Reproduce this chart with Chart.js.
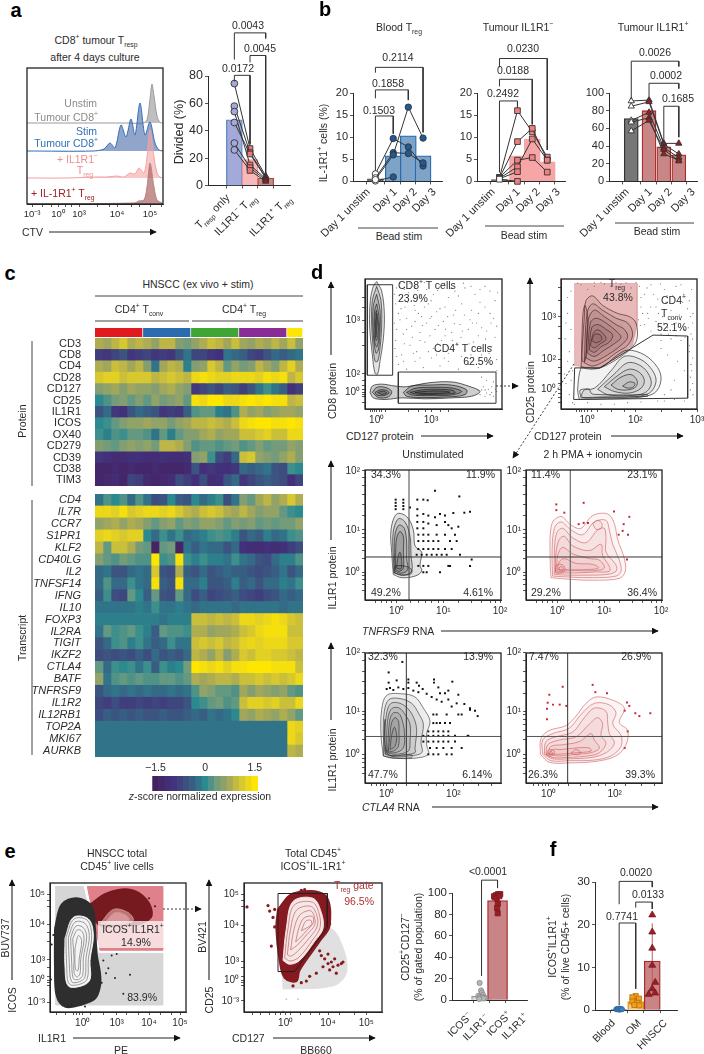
<!DOCTYPE html>
<html>
<head>
<meta charset="utf-8">
<title>IL-1R1 Treg figure</title>
<script src="https://cdn.jsdelivr.net/npm/chart.js@4/dist/chart.umd.min.js"></script>
<style>
  html, body { margin: 0; padding: 0; background: #fff; }
  #page { position: relative; width: 704px; height: 1054px; overflow: hidden; font-family: "Liberation Sans", Arial, sans-serif; color: #2b2b2b; }
  canvas { position: absolute; pointer-events: none; }
  .t { position: absolute; white-space: nowrap; line-height: 1; }
  .t sub, .t sup { font-size: 65%; line-height: 0; }
  svg { position: absolute; left: 0; top: 0; }
</style>
</head>
<body>
<div id="page"></div>
<script>
// ---- panel a ----
const histTickValues = [5, 31, 52, 90, 123, 15, 24, 38, 44, 70, 82, 104, 112, 134];
const histTickLabels = ['10⁻³', '10⁰', '10³', '10⁴', '10⁵'];
const unstimX = [0, 100, 116, 120, 123, 125, 127, 130, 133, 136];
const unstimY = [81, 81, 81, 84, 105, 120, 108, 88, 81.5, 81];
const stimX = [0, 66, 77, 83, 88, 94, 99, 104, 108, 113, 118, 123, 128, 132, 136];
const stimY = [53, 53, 55, 61, 56, 79, 67, 85, 69, 101, 69, 82, 61, 54, 53];
const il1r1NegX = [0, 40, 70, 80, 90, 97, 103, 108, 112, 117, 120, 123, 127, 130, 133, 136];
const il1r1NegY = [26, 26, 27, 27, 28, 27, 31, 30, 36, 31, 47, 74, 47, 31, 27, 26];
const il1r1PosX = [0, 107, 112, 117, 120, 123, 127, 130, 135, 136];
const il1r1PosY = [0, 1, 3, 4, 17, 41, 17, 4, 1, 0];

const dividedX = [0, 1, 2];
const dividedBars = [48, 19, 5.5];
const dividedDonors = [[74.5, 27, 7], [58, 24, 6], [54, 15, 5], [46, 23, 5.5], [31, 13, 4], [26, 11, 3]];
const dividedBrackets = [[0, 2, 111.5, 92, 107.5], [1, 2, 95, 90, 8.5], [0, 1, 80.5, 76, 30]];

// ---- panel b ----
const bloodX = [0, 1.185, 2.185, 3.165];
const bloodBars = [0.6, 5.8, 10.3, 5.8];
const bloodDonors = [[0.1, 1, null, null], [1.7, 9.7, 7.8, 3.5], [0.8, 6.5, 6.3, 4.2], [0.4, 6, 16.8, 9.8]];
const bloodBrackets = [[0, 1.185, 14.8, 2.4, 10.8], [0, 2.185, 20.7, 18.8, 18.4], [0, 3.165, 25.8, 24.6, 11.1]];

const tumourNegX = [0, 1.2, 2.185, 3.185];
const tumourNegBars = [0.4, 5.8, 9.6, 4.4];
const tumourNegDonors = [[0.9, 16, 11.2, 5.5], [0.8, 9, 12, 4.8], [0.9, 4.8, 5.4, 2.1], [0.7, 3.3, 9.6, 4.8], [0.6, 2.2, null, null], [0.5, 0, null, null]];
const tumourNegBrackets = [[0, 1.2, 18.2, 2, 16.7], [0, 2.185, 23.1, 21.5, 12.9], [0, 3.185, 27.8, 25.8, 7.1]];

const tumourPosX = [0, 1.185, 2.17, 3.17];
const tumourPosBars = [71, 80, 39, 30];
const tumourPosDonors = [[91, 92, 43, 43], [85, 90, 42, 31], [69, 78, 38, 27], [67, 72, 31, 24], [57, 69, 36, 23]];
const tumourPosBrackets = [[0, 3.17, 136, 93, 130], [1.185, 3.17, 111, 96, 105], [2.17, 3.17, 85, 46, 50]];

// ---- panel c ----
const clusterColours = ['#e01a1f', '#2b6cb0', '#3fa535', '#8a2c96', '#ffe600'];
const proteinLabels = ['CD3', 'CD8', 'CD4', 'CD28', 'CD127', 'CD25', 'IL1R1', 'ICOS', 'OX40', 'CD279', 'CD39', 'CD38', 'TIM3'];
const proteinZ = [
  [.8,.7,.9,1.1,.8,.9, .8,.6,.9,.9,.5,.4, .6,.8,1,.9,.7,1, .7,.6,.8,.7,.9,.7, 1,.6],
  [-.8,-.9,-.7,-.5,-.9,-.8, -.7,-.9,-.8,-.9,-.5,-.2, -.7,-.7,-.9,-1,-.2,-.3, -.4,-.7,-.8,-.5,-.3,-.4, -.3,-.2],
  [.8,.7,1,.9,.7,.9, .5,-.2,.7,.9,.8,-.1, .5,.6,1.1,.9,.3,.6, .4,.5,.9,.7,.5,.9, 1.2,.8],
  [1.1,1.2,1.2,1,1.1,1.1, 1.1,.9,1,1.1,1,.9, 1.3,1.4,1.3,1.2,1.2,1.3, 1.3,1.3,1.2,1.4,1.3,1.4, .9,1.1],
  [.5,.6,.7,.5,.7,.6, .6,.5,.7,.8,.6,.5, -.9,-.7,-.5,-.7,-.4,-.5, -.8,-.5,-.2,.1,-.2,-.4, -1,-.8],
  [0,.2,.4,.5,.3,.5, .3,.6,.4,.5,.6,.3, 1.4,1.3,1.5,1.5,1.3,1.3, 1.4,1.5,1.4,1.5,1.4,1.4, .9,1],
  [-.5,-.3,-.9,-1,-.5,-.3, -.4,-.5,-.9,-.8,-.9,-.4, .2,.3,.3,-.1,-.2,.2, .8,.6,.7,.5,.6,.7, .7,.6],
  [0,.1,.3,.5,.6,.6, .7,.6,.6,.4,.6,.7, .9,.9,1,.9,.8,1, 1.3,1.4,1.5,1.5,1.4,1.4, 1.5,1.4],
  [.1,-.1,.2,.1,.3,.3, .2,-.2,.3,-.1,.3,.5, .5,.7,.8,.6,.7,.7, 1,1,1.1,1.2,1,1, 1.3,1.3],
  [.5,.4,.3,.5,.6,.5, .6,.4,.9,.9,.8,.5, .2,.3,.3,.2,.3,.4, .2,.3,.5,.3,.4,.4, .6,.5],
  [-.9,-1,-1.1,-1.1,-1,-1, -1.1,-1.1,-1,-1.1,-1.1,-1, .5,.6,.1,-.6,-.8,-.3, 1,1.1,.6,.5,.4,.6, .8,.5],
  [-1.3,-1.3,-1.2,-1.3,-1.2,-1.3, -1.3,-1.2,-1.3,-1.3,-1.3,-1.2, -.5,-1,-.9,-1,-1,-.9, -.3,-.4,-.3,-.2,-.5,-.6, .1,0],
  [-1.3,-1.2,-1.1,-1.3,-.7,-.8, -1.2,-1.3,-1.2,-1.1,-.6,-.8, -1,-.6,-1.1,-1,-.5,-.3, -.9,-.7,-.5,-.4,-.5,-.6, -1,-.7]
];
const transcriptLabels = ['CD4', 'IL7R', 'CCR7', 'S1PR1', 'KLF2', 'CD40LG', 'IL2', 'TNFSF14', 'IFNG', 'IL10', 'FOXP3', 'IL2RA', 'TIGIT', 'IKZF2', 'CTLA4', 'BATF', 'TNFRSF9', 'IL1R2', 'IL12RB1', 'TOP2A', 'MKI67', 'AURKB'];
const transcriptZ = [
  [-.2,.2,0,.2,-.3,.2, -.2,-.6,-.5,0,-.4,-.5, 0,-.3,-.1,.1,-.6,-.2, .5,.3,.7,.9,.6,.8, 1.1,.8],
  [1.3,1.3,1.2,1.4,1.1,1.2, 1.3,1.3,1.2,1.3,1.1,.9, .8,1,1.1,1,.8,.7, .9,.7,.5,.6,.6,.3, .1,0],
  [.6,.7,.8,.6,.8,.7, .5,.3,.5,.6,.3,.5, .4,.6,.6,.5,.3,.5, .4,.5,.3,.4,.3,.4, .4,.6],
  [1.2,1.3,1.2,1.1,1.2,1.2, 0,-.3,.1,-.2,.1,-.3, -.2,-.1,.1,.2,.1,-.1, -.5,-.3,-.4,-.1,-.3,-.2, .1,.2],
  [.9,.3,1,1,.8,.4, .3,-1.4,.3,.4,-1.4,-.2, -.4,-.2,-.3,-.3,-.5,-.3, -1,-1.1,-1.1,-1,-1.1,-1, -.8,-.6],
  [.5,.3,.2,.4,.3,.2, .2,1.5,.1,.2,1.4,.1, -.1,.1,-.1,-.1,-.2,.1, -.2,-.3,-.5,-.6,-.3,-.1, -.1,.2],
  [-.3,-.2,-.5,-.5,-.3,-.2, -.3,1.1,-.5,-.6,.8,-.4, -.5,-.3,-.5,-.4,-.3,-.4, -.4,-.5,-.6,-.5,-.4,-.2, -.5,-.3],
  [-.3,.2,-.3,-.3,.1,-.2, -.3,1.4,-.4,-.5,1.4,-.3, -.3,-.1,-.5,-.5,-.4,-.1, -.4,-.3,-.5,-.3,-.3,-.1, -.2,.1],
  [-.4,.1,-.6,-.7,.3,0, -.4,.3,-.5,-.6,.3,-.3, -.6,-.4,-.7,-.6,-.5,-.4, -.6,-.7,-.8,-.6,-.5,-.3, -.4,-.3],
  [-.2,-.2,-.2,-.2,-.2,-.1, -.2,.1,-.2,-.2,-.1,-.2, -.3,-.2,-.2,-.2,-.2,-.3, -.2,-.2,-.2,-.2,-.2,-.3, -.2,-.2],
  [-.1,-.1,-.1,-.1,-.1,-.1, -.1,-.1,-.2,-.1,-.1,-.1, 1,1,.9,1,.9,1, 1.3,1.3,1.2,1.3,1.4,1.3, 1.1,1],
  [-.2,.3,.1,.2,.3,.1, -.1,-.4,.3,.2,.2,.1, .8,.8,.6,.7,.7,.8, 1,1.1,1.3,1.4,1.4,1.4, 1,1],
  [-.5,-.3,.1,.2,-.1,.1, -.2,-.4,-.3,.1,-.2,-.2, 1,1.1,1,1.1,.9,1, 1.2,1.3,1.2,1.3,1.3,1.3, 1.1,1.1],
  [-.6,-.5,-.6,-.5,-.6,-.4, -.6,-.3,-.5,-.4,-.5,-.3, .9,.8,.6,.9,.5,.8, 1.1,1,1.2,1.2,1.1,1.1, 1,.9],
  [.3,-.3,.1,0,.1,-.2, .1,-.4,.1,-.1,0,.4, 1.5,1.4,1.3,1.4,1.2,1.4, 1.4,1.5,1.5,1.5,1.4,1.4, 1.4,1],
  [.6,-.2,.2,.3,.2,.3, .2,.2,.3,.3,.2,.3, .8,.7,.8,.9,.9,.8, 1,1,1.1,1,1.1,1, 1.1,1.3],
  [-.5,-.3,-.2,-.3,-.2,-.3, -.2,-.3,-.3,-.2,-.3,-.2, .2,.6,.5,.3,.3,.2, .7,.5,.7,.6,.5,.6, .3,.2],
  [-.7,-.8,-.6,-.8,-.8,-.7, -.8,-.7,-.8,-.7,-.7,-.5, 0,.1,.3,.4,.2,.3, 1,1.2,1.2,1.1,1.2,1, 1,1.3],
  [-.6,-.4,-.5,-.4,-.5,-.4, -.5,-.5,-.4,-.5,-.5,-.4, -.3,-.4,-.2,-.3,-.2,0, .7,.6,.8,.7,.6,.8, .6,.3],
  [-.2,-.2,-.2,-.2,-.2,-.2, -.2,-.2,-.2,-.2,-.2,-.2, -.2,-.2,-.2,-.2,-.2,-.2, -.2,-.2,-.2,-.2,-.2,-.2, 1.3,1.2],
  [-.2,-.2,-.2,-.2,-.2,-.2, -.2,-.2,-.2,-.2,-.2,-.2, -.2,-.2,-.2,-.2,-.2,-.2, -.2,-.2,-.2,-.2,-.2,-.2, 1.3,1.1],
  [-.2,-.2,-.2,-.2,-.2,-.2, -.2,-.2,-.2,-.2,-.2,-.2, -.2,-.2,-.2,-.2,-.2,-.2, -.2,-.2,-.2,-.2,-.2,-.2, .9,.8]
];
const clusterSizes = [6, 6, 6, 6, 2];
const zLevels = [-1.5, -1.3, -1.1, -0.95, -0.75, -0.55, -0.4, -0.2, 0, 0.2, 0.4, 0.55, 0.75, 0.95, 1.1, 1.3, 1.5];
const zColourStops = [[-1.5, '#45205f'], [-1, '#43307a'], [-.5, '#3c5480'], [0, '#2a8a8f'], [.35, '#6d9a80'], [.75, '#a8a858'], [1.1, '#d8c830'], [1.5, '#ffe600']];

// ---- panel d, axes in instrument channels ----
const d1XTicks = [35, 198, 15, 22, 28, 42, 48, 60, 130, 160, 180, 225, 250];
const d1YTicks = [52, 110, 279, 20, 40, 46, 60, 75, 90, 200, 240, 320, 350];
const d1Cd8Contours = [
  [35,400,50,370,58,300,55,220,45,150,38,110,30,112,22,170,14,260,16,340,25,385],
  [35,385,48,340,50,260,45,190,38,150,30,150,24,200,20,270,22,340],
  [35,360,45,310,45,240,40,185,33,175,26,220,23,280,26,330],
  [35,330,42,290,42,230,36,195,30,205,27,260,29,310],
  [34,310,40,270,38,225,33,215,30,250,30,290]
];
const d1Cd4Contours = [
  [15,52,22,72,50,78,90,72,125,70,190,82,260,85,310,72,345,55,320,40,260,35,180,32,110,35,60,30,25,35],
  [22,52,35,68,60,68,80,55,70,38,40,36],
  [30,52,45,60,65,58,72,50,55,42,35,44],
  [38,52,55,56,65,50,50,46],
  [115,52,140,72,190,75,260,75,305,60,300,45,250,38,170,36,125,40],
  [125,52,150,65,200,68,260,66,290,55,260,44,190,42,140,44],
  [135,52,170,60,220,62,265,58,270,50,220,46,160,46],
  [150,52,190,56,240,56,255,52,220,49,170,49]
];
const d1Dots = [95,380,110,350,130,365,150,385,120,320,140,340,165,355,185,375,205,360,225,385,250,350,270,370,300,380,330,360,360,385,390,340,100,300,125,285,150,310,170,290,190,330,215,305,240,320,265,295,290,330,320,310,345,335,375,300,95,250,115,235,140,260,165,240,185,270,210,250,235,275,260,240,285,265,310,250,335,270,365,245,395,260,90,190,110,170,135,200,155,180,180,210,205,190,230,215,250,175,275,205,300,185,325,210,350,170,380,195,100,140,125,125,150,150,175,130,200,160,225,135,250,150,280,125,310,140,340,130,370,145,395,120,350,100,365,90,380,70,395,55,360,60,375,45,385,85,
  88,360,105,395,118,375,135,395,158,372,178,398,198,340,218,372,238,395,258,378,280,355,295,395,318,385,345,375,375,370,398,365,92,330,108,315,128,335,148,325,160,300,178,320,200,290,225,315,248,290,272,310,298,295,315,280,340,300,360,320,385,285,88,270,105,280,125,250,150,275,172,262,195,285,220,262,242,250,268,268,292,245,322,270,350,255,378,270,92,215,118,205,142,225,165,215,195,230,218,205,240,230,262,215,288,225,312,205,340,230,362,220,390,225,95,165,115,150,145,175,165,160,190,180,215,170,238,160,262,185,290,165,318,170,345,190,372,175,395,155,350,60,365,50,345,45,355,70,370,62,380,52,392,62,340,58,360,40,385,40];
const d1Cd8Gate = [7,106,83,106,83,390,7,390];
const d1Cd4Gate = [100,18,393,18,393,116,100,116];

const d2XTicks = [78, 223, 408, 45, 55, 62, 70, 90, 110, 150, 190, 300, 360];
const d2YTicks = [62, 155, 289, 20, 35, 48, 80, 110, 130, 220, 260, 340, 380];
const d2TregGate = [41,394,228,394,228,262,213,197,116,129,100,129,41,136];
const d2TconvGate = [41,129,116,129,276,232,380,229,380,34,38,30];
const d2TregContours = [
  [60,130,70,290,75,340,95,355,125,325,170,300,205,290,225,270,228,220,210,190,180,165,150,145,120,130,90,125],
  [70,145,78,300,95,330,125,310,165,285,200,270,215,235,200,200,170,180,130,150,95,135],
  [75,160,82,280,100,310,130,290,165,265,190,250,200,225,180,200,140,170,100,150],
  [80,175,88,270,105,285,135,270,165,245,180,225,160,205,130,185,100,165],
  [85,185,92,255,110,265,135,250,155,232,145,210,120,195,100,178],
  [88,200,98,240,112,248,130,232,135,218,118,205,100,192],
  [92,215,102,235,118,232,122,218,105,208],
  [62,200,66,300,72,325,80,290,78,210,72,150,64,150]
];
const d2TconvContours = [
  [55,30,50,60,60,130,75,130,120,130,170,170,200,185,250,170,290,130,300,90,280,50,220,35,140,32],
  [60,35,58,60,100,65,150,120,190,165,240,155,275,120,285,85,265,50,210,38,130,38],
  [110,62,160,110,200,145,240,135,265,105,270,75,250,50,200,42,140,45],
  [130,70,170,105,205,125,235,115,250,90,240,65,205,50,160,55],
  [150,75,180,100,210,108,228,90,225,70,200,60,170,62],
  [185,72,205,85,222,80,215,68,198,66],
  [60,42,70,60,85,62,90,50,100,46,200,44,260,45,260,40,120,36,70,35]
];
const d2Dots = [235,385,250,360,270,390,290,345,310,375,335,355,360,390,385,340,240,320,260,300,285,320,305,290,330,310,355,295,380,315,395,270,232,280,250,265,270,245,295,260,320,255,345,270,370,250,390,235,300,215,330,220,360,215,385,200,395,160,392,120,395,80,388,60,120,398,150,385,180,392,210,380,60,390,80,375,100,385,20,300,30,250,25,180,35,120,15,80,25,45,35,20,120,15,200,20,290,25,340,30,300,190,320,170,350,150,370,120,340,90,330,60,310,45,
  240,350,258,380,278,360,298,392,318,355,345,385,368,360,392,375,245,300,268,320,292,300,315,335,340,285,365,335,388,290,238,262,262,285,285,275,308,270,332,265,358,280,382,255,396,300,395,220,300,235,322,235,345,230,372,225,385,180,390,140,388,100,396,45,100,396,130,392,165,396,195,396,225,398,50,395,30,370,20,350,15,270,12,220,20,150,10,110,30,90,40,15,80,20,160,15,240,22,310,25,370,25];

const d3XTicks = [95, 235, 405, 30, 50, 65, 80, 137, 160, 180, 200, 220, 280, 320, 350, 375, 390];
const d3YTicks = [87, 220, 405, 30, 50, 65, 77, 130, 155, 175, 195, 210, 265, 300, 330, 360, 385];
const d3Contours = [
  [85,80,80,150,78,220,95,270,125,262,145,220,150,170,170,150,165,110,170,90,150,75,110,70],
  [88,85,84,150,85,215,100,255,120,245,135,200,138,140,140,90,115,78],
  [90,90,88,150,90,205,102,235,118,225,125,180,125,130,128,95,110,84],
  [92,95,92,150,95,195,105,215,115,200,115,150,115,100,103,90],
  [95,100,98,130,105,150,110,120,108,98],
  [88,85,88,105,105,108,125,105,140,95,138,82,110,78]
];
const d3Dots = [210,343,283,325,92,285,92,295,92,305,92,315,115,285,115,295,115,305,115,315,135,290,157,315,175,315,188,313,157,225,157,245,157,265,157,285,175,225,175,245,175,270,190,240,190,265,315,277,298,274,265,273,225,270,240,265,210,260,240,245,250,235,280,230,260,225,215,235,160,205,175,205,190,205,215,205,240,205,270,205,160,185,175,185,190,185,205,185,220,185,255,185,275,185,160,160,175,160,190,160,205,160,220,160,240,160,260,160,155,142,170,142,185,142,200,142,215,142,230,142,245,142,285,142,320,127,160,107,175,107,190,107,250,107,255,107,315,107,175,87,185,87,225,87];

const d4Contours = [
  [75,70,72,140,78,240,105,262,135,235,165,225,200,265,245,270,265,240,275,190,295,130,298,90,280,68,200,62,130,65],
  [80,75,78,140,85,225,105,245,135,220,170,205,205,245,240,250,250,220,260,175,280,125,285,90,270,75,200,70,130,72],
  [85,80,85,150,92,210,110,225,140,195,180,180,215,220,235,225,240,190,240,150,270,110,270,90,240,80,180,78,125,78],
  [88,85,90,150,100,190,115,200,140,170,190,155,225,175,230,140,250,105,250,90,210,88,150,85,110,85],
  [92,90,95,140,110,165,140,145,190,130,220,125,235,100,200,92,140,92,105,90],
  [95,95,100,120,115,130,150,115,200,112,218,100,170,95,120,95],
  [88,90,92,110,110,110,118,95,105,85,92,85],
  [98,95,103,105,112,100,108,92],
  [200,240,215,250,228,240,225,225,210,222]
];
const d4Dots = [91,300,91,282,115,274,173,305,264,278,310,261,293,238,158,238,173,242,186,242,306,205,290,217,278,205,303,127];

const d5XTicks = [65, 265, 20, 35, 45, 55, 95, 125, 160, 190, 215, 235, 295, 340, 380];
const d6XTicks = [68, 266, 22, 38, 48, 58, 98, 128, 163, 193, 218, 238, 298, 345, 385];
const d5YTicks = [90, 225, 410, 30, 50, 65, 78, 135, 165, 185, 200, 215, 280, 320, 350, 385];
const d5Contours = [
  [55,85,48,150,50,230,65,275,110,280,150,270,175,235,195,195,185,155,185,120,190,90,150,78,90,78],
  [60,90,55,150,58,225,72,262,105,265,140,250,160,220,175,185,168,130,170,95,130,85,90,82],
  [62,92,60,150,65,220,78,250,105,250,130,232,148,200,155,165,150,110,150,95,110,88,80,86],
  [65,95,65,150,70,210,82,235,103,235,120,215,135,185,135,130,130,100,90,90],
  [68,97,70,150,75,200,85,220,102,218,112,195,118,160,115,110,90,95],
  [70,100,75,150,80,190,90,205,100,195,102,160,100,115,85,100],
  [75,105,80,150,88,175,95,150,90,115],
  [55,85,60,200,68,92,140,88,140,80,80,78]
];
const d5Dots = [112,380,71,347,71,315,95,322,130,315,130,325,155,315,207,315,207,325,262,318,162,305,173,295,220,300,250,290,280,277,240,282,225,282,65,295,75,298,85,292,100,300,115,295,130,298,145,290,160,285,185,280,200,270,215,262,230,255,250,262,205,215,215,215,245,215,280,215,290,215,205,188,215,188,225,188,240,188,255,188,190,162,205,162,220,162,235,162,250,162,175,148,190,148,205,148,220,148,235,148,250,148,270,148,310,148,175,130,190,130,205,130,220,130,235,130,250,130,270,130,195,110,215,110,235,110,260,110,290,110,190,90,205,90,220,90,245,90,260,90,298,248,315,235,330,227,338,210,315,230,275,250,260,240,308,148];
const d6Contours = [
  [43,90,45,140,70,165,120,180,150,210,180,250,210,270,260,260,295,235,280,190,305,165,300,120,270,85,210,68,130,63,70,65],
  [50,90,50,135,80,155,130,172,165,215,205,250,250,245,270,220,260,185,285,150,285,115,255,85,205,72,130,70,75,70],
  [55,90,60,130,90,145,140,160,175,205,205,235,240,225,245,190,250,155,265,125,240,95,195,80,130,76,80,76],
  [60,90,65,120,100,135,150,145,190,185,215,205,230,185,225,150,240,125,220,95,185,85,120,80,80,80],
  [65,92,75,115,110,120,160,130,195,155,205,135,220,110,195,95,150,90,95,85],
  [70,92,80,105,105,105,150,110,190,110,195,100,150,95,95,90],
  [60,90,70,105,85,100,82,88,70,84],
  [65,90,74,100,80,92,72,88],
  [135,95,150,105,165,95,150,88]
];
const d6Dots = [110,302,70,277,65,252,63,233,81,246,101,246,121,242,63,200,200,308,208,285,243,282,303,253,310,242,296,227,328,219,340,210,373,219,305,162,296,110];

// ---- panel e ----
const eXTicks = [98, 200, 297, 390, 20, 45, 70, 80, 88, 120, 160, 230, 265, 330, 365];
const eYTicks = [30, 100, 164, 274, 370, 92, 84, 110, 140, 220, 250, 330, 350];
const e1GreyGate = [17,394,100,394,145,184,338,184,338,22,17,22];
const e1PinkGate = [112,394,338,394,338,194,150,194];
const e1DarkBlob = [15,262,35,337,80,357,125,332,135,262,140,182,150,122,150,82,135,42,90,22,45,17,20,52,15,142];
const e1InnerBlob = [45,232,70,297,115,292,130,242,120,162,120,102,95,82,55,82,45,142];
const e1Contours = [
  [48,235,72,292,112,288,125,240,115,165,112,105,92,88,58,88,50,145],
  [55,235,75,282,105,278,118,240,108,170,105,110,88,95,65,95,58,150],
  [62,235,78,270,100,265,110,235,100,170,98,115,85,102,70,105,65,155],
  [68,230,82,258,97,252,102,225,92,165,90,120,80,110,72,125,72,170],
  [75,200,85,240,95,225,88,170,84,130,76,135]
];
const e1RedBlob = [120,337,170,372,240,384,290,352,305,302,270,277,220,272,150,272,130,302];
const e1PinkContours = [
  [150,277,190,322,235,312,250,287,210,274],
  [165,280,195,312,228,304,238,287,205,279]
];
const e1Dots = [297,357,168,122,175,137,240,117,220,57,185,177,200,182,160,162,155,92,195,107,55,17,65,22,105,17,0,97,3,102,10,242,5,212,315,332];

const e2XTicks = [125, 252, 367, 25, 50, 75, 95, 110, 140, 170, 200, 225, 285, 330];
const e2YTicks = [35, 100, 159, 272, 370, 92, 84, 110, 140, 220, 250, 330, 350];
const e2GreyBlob = [117,72,267,82,307,122,297,202,257,262,180,170,120,120];
const e2RedBlob = [102,322,147,372,242,367,257,272,227,222,167,132,157,97,122,107,107,162,97,262];
const e2InnerBlob = [117,162,127,262,147,347,207,357,232,312,237,262,212,222,167,162,137,150];
const e2Contours = [
  [122,170,132,262,150,335,205,345,225,310,228,265,205,225,165,172,138,160],
  [130,180,140,262,158,320,200,332,218,305,220,270,198,235,160,190,140,175],
  [140,195,150,260,168,305,200,318,212,295,212,272,190,245,160,210],
  [155,220,165,265,180,295,205,300,208,280,190,258,170,235],
  [172,255,185,285,200,288,203,275,190,265]
];
const e2Gate = [102,372,250,372,250,267,152,127,102,127];
const e2RedDots = [9,330,72,334,77,317,92,322,87,297,92,267,82,207,172,382,182,384,252,307,257,277,232,177,242,167,252,182,262,157,272,167,282,147,292,152,297,157,267,142,257,132,252,152,237,142,227,192,277,122,217,122,197,112,187,97,172,92,147,82];
const e2GreyDots = [127,40,162,40,117,2];

const gatedX = [0, 1];
const gatedBars = [3.5, 93];
const gatedNegX = [-.12, -.03, .02, .09, -.2, -.1, .08, .22, -.02, .12, -.14];
const gatedNegY = [16, 9, 7, 5, 4, 3, 3, 2, 2, 1.5, 1];
const gatedPosX = [-.22, -.1, .03, .17, -.18, -.05, .12, .02, -.03, .01];
const gatedPosY = [97, 98, 99, 99, 96, 95, 97, 90, 86, 81];
const gatedBrackets = [[0, 1, 112, 22.5, 104.6]];
const gatedErrors = [[0, 0.2, 9.5], [1, 84, 100]];

// ---- panel f ----
const tissueX = [0, 1, 2];
const tissueBars = [0.2, 2, 11.5];
const bloodPtsX = [-.17, -.08, 0, .08, .17];
const bloodPtsY = [0.2, 0.3, 0.1, 0.3, 0.2];
const omPtsX = [0, -.2, .2, -.2, .1, -.08, .22];
const omPtsY = [3.3, 3, 2.7, 2, 1.7, 1.2, 1.1];
const hnsccPtsX = [0, 0, 0, 0, .18, 0, .18, -.22];
const hnsccPtsY = [22.3, 18.3, 14.5, 10.5, 6.5, 5, 4, 3.7];
const tissueBrackets = [[0, 2, 30.15, 24.8, 28.8], [1, 2, 25.3, 24, 23.7], [0, 1, 20.4, 1.1, 5]];
const tissueErrors = [[1, 0.9, 3.2], [2, 3, 20.3]];

// ---- helpers ----
const INK = '#2b2b2b';
const FONT = '"Liberation Sans", Arial, sans-serif';
Chart.defaults.font.family = FONT;
Chart.defaults.font.size = 10;
Chart.defaults.color = INK;

const page = document.getElementById('page');

const framePlugin = {
  id: 'frame',
  afterDatasetsDraw(chart) {
    const a = chart.chartArea;
    const ctx = chart.ctx;
    ctx.save();
    ctx.strokeStyle = '#222';
    ctx.lineWidth = 1.3;
    ctx.strokeRect(a.left, a.top, a.right - a.left, a.bottom - a.top);
    ctx.restore();
  }
};

// places a chart so that its plot area lands on box; pad is the room kept around it
function addChart(box, pad, config, stacked) {
  const canvas = document.createElement('canvas');
  canvas.width = box.r - box.l + pad.l + pad.r;
  canvas.height = box.b - box.t + pad.t + pad.b;
  canvas.style.left = (box.l - pad.l) + 'px';
  canvas.style.top = (box.t - pad.t) + 'px';
  page.appendChild(canvas);

  const opts = config.options;
  const xTop = opts.scales.x.position === 'top';
  opts.responsive = false;
  opts.animation = false;
  opts.events = [];
  opts.devicePixelRatio = 1;
  opts.plugins = { legend: { display: false }, tooltip: { enabled: false } };
  opts.layout = { autoPadding: false, padding: { left: 0, right: pad.r, top: xTop ? 0 : pad.t, bottom: 0 } };
  opts.scales.x.afterFit = s => { s.height = xTop ? pad.t : pad.b; };
  opts.scales.y.afterFit = s => { s.width = pad.l; };
  // first dataset at the back; stacked bars keep their own order
  if (!stacked) config.data.datasets.forEach((d, i) => { d.order = -i; });
  return new Chart(canvas, config);
}

function tickScale(min, max, values, labels, size) {
  return {
    type: 'linear',
    min,
    max,
    afterBuildTicks(s) { s.ticks = values.map(v => ({ value: v })); },
    ticks: {
      autoSkip: false,
      maxRotation: 0,
      minRotation: 0,
      padding: 2,
      font: { size: size || 10 },
      callback(v) {
        const i = values.indexOf(v);
        return i < labels.length ? labels[i] : '';
      }
    },
    grid: { display: true, drawOnChartArea: false, tickLength: 3, color: INK, lineWidth: 0.8 },
    border: { color: INK, width: 1 }
  };
}

const hiddenAxis = { ticks: { display: false }, grid: { display: false }, border: { display: false } };

function toPoints(flat) {
  const pts = [];
  for (let i = 0; i < flat.length; i += 2) pts.push({ x: flat[i], y: flat[i + 1] });
  return pts;
}

function closed(flat) {
  return toPoints(flat.concat([flat[0], flat[1]]));
}

function contour(flat, color, width, fillColor) {
  return { type: 'scatter', data: closed(flat), showLine: true, borderColor: color, borderWidth: width || 0.7, backgroundColor: fillColor, pointRadius: 0, tension: 0.35, fill: fillColor ? 'shape' : false };
}

function shape(flat, fillColor, lineColor, width, tension) {
  return { type: 'scatter', data: closed(flat), showLine: true, borderColor: lineColor || fillColor, borderWidth: width === undefined ? 1 : width, backgroundColor: fillColor, pointRadius: 0, tension: tension || 0, fill: 'shape' };
}

function gate(flat, color, width) {
  return { type: 'scatter', data: closed(flat), showLine: true, borderColor: color || '#333', borderWidth: width || 1, pointRadius: 0, tension: 0, fill: false };
}

function straight(flat, color, width) {
  return { type: 'scatter', data: toPoints(flat), showLine: true, borderColor: color || '#333', borderWidth: width || 1, pointRadius: 0, tension: 0, fill: false };
}

function dots(flat, color, r, style) {
  return { type: 'scatter', data: toPoints(flat), showLine: false, pointRadius: r || 0.6, pointStyle: style || 'circle', pointBackgroundColor: color, pointBorderWidth: 0 };
}

function flowChart(box, xTicks, xLabels, yTicks, yLabels, layers) {
  const w = (box.r - box.l) * 3;
  const h = (box.b - box.t) * 3;
  addChart(box, { l: 36, r: 8, t: 2, b: 20 }, {
    type: 'scatter',
    data: { datasets: layers },
    options: { scales: { x: tickScale(0, w, xTicks, xLabels), y: tickScale(0, h, yTicks, yLabels) } },
    plugins: [framePlugin]
  });
}

function bracketSet(list) {
  return list.map(b => ({
    type: 'line',
    data: [{ x: b[0], y: b[3] }, { x: b[0], y: b[2] }, { x: b[1], y: b[2] }, { x: b[1], y: b[4] }],
    borderColor: '#333', borderWidth: 1, pointRadius: 0, tension: 0, clip: false, fill: false
  }));
}

function errorSet(list, color) {
  return list.map(e => ({
    type: 'line',
    data: [{ x: e[0], y: e[1] }, { x: e[0], y: e[2] }],
    borderColor: color, borderWidth: 1, pointRadius: 0, tension: 0, clip: false, fill: false
  }));
}

function jitterSet(xs, ys, offset, style, radius, fill, line) {
  return {
    type: 'line', showLine: false, clip: false,
    data: xs.map((x, i) => ({ x: x + offset, y: ys[i] })),
    pointStyle: style, pointRadius: radius, pointBackgroundColor: fill, pointBorderColor: line, pointBorderWidth: 0.8
  };
}

// one paired panel: bars, donor lines, p-value brackets
function barPanel(cfg) {
  const sets = [];
  sets.push({
    type: 'bar',
    data: cfg.x.map((x, i) => ({ x, y: cfg.bars[i] })),
    backgroundColor: cfg.fills, borderColor: cfg.lines, borderWidth: 1.3, barThickness: cfg.barWidth,
    borderSkipped: 'bottom'
  });
  errorSet(cfg.errors || [], cfg.errorColor || '#b03a3a').forEach(d => sets.push(d));
  (cfg.donors || []).forEach(row => {
    sets.push({
      type: 'line',
      data: cfg.x.map((x, i) => ({ x, y: row[i] })),
      borderColor: '#333', borderWidth: 1, tension: 0, clip: false,
      pointStyle: cfg.markerStyle,
      pointRadius: cfg.markerRadius,
      pointBackgroundColor: cfg.markerFill,
      pointBorderColor: cfg.markerLine || '#333',
      pointBorderWidth: 0.9
    });
  });
  (cfg.extra || []).forEach(d => sets.push(d));
  bracketSet(cfg.brackets).forEach(d => sets.push(d));
  addChart(cfg.box, { l: 40, r: 10, t: 95, b: 6 }, {
    type: 'bar',
    data: { datasets: sets },
    options: {
      scales: {
        x: tickScale(cfg.xMin, cfg.xMax, cfg.x, [], 1),
        y: tickScale(0, cfg.yMax, cfg.yTicks, cfg.yTicks.map(String), cfg.tickSize)
      }
    }
  });
}

const zStops = zColourStops.map(s => [s[0], parseInt(s[1].slice(1, 3), 16), parseInt(s[1].slice(3, 5), 16), parseInt(s[1].slice(5, 7), 16)]);
function zColour(z) {
  for (let i = 1; i < zStops.length; i++) {
    if (z <= zStops[i][0]) {
      const a = zStops[i - 1], b = zStops[i];
      const f = Math.max(0, (z - a[0]) / (b[0] - a[0]));
      return `rgb(${Math.round(a[1] + (b[1] - a[1]) * f)},${Math.round(a[2] + (b[2] - a[2]) * f)},${Math.round(a[3] + (b[3] - a[3]) * f)})`;
    }
  }
  return '#ffe600';
}

function heatmap(box, labels, rows, italic) {
  const sets = rows[0].map((_, col) => ({
    data: rows.map(() => 1),
    backgroundColor: rows.map(r => zColour(r[col])),
    borderWidth: 0,
    barPercentage: 1,
    categoryPercentage: 1
  }));
  addChart(box, { l: 80, r: 2, t: 20, b: 20 }, {
    type: 'bar',
    data: { labels, datasets: sets },
    options: {
      indexAxis: 'y',
      scales: {
        x: { ...hiddenAxis, stacked: true, min: 0, max: rows[0].length },
        y: {
          stacked: true,
          grid: { display: false },
          border: { display: false },
          ticks: { autoSkip: false, padding: 6, font: { size: 11, style: italic ? 'italic' : 'normal' }, color: INK }
        }
      }
    }
  }, true);
}

// ---- panel a charts ----
function histLayer(xs, ys, line, fill) {
  return {
    type: 'scatter', showLine: true, data: xs.map((x, i) => ({ x, y: ys[i] })),
    borderColor: line, borderWidth: 1, backgroundColor: fill, fill: 'shape', pointRadius: 0, tension: 0.3
  };
}
addChart({ l: 27, t: 68, r: 163, b: 204 }, { l: 6, r: 8, t: 2, b: 20 }, {
  type: 'scatter',
  data: {
    datasets: [
      histLayer(unstimX, unstimY, '#9a9a9a', 'rgba(170,170,170,.75)'),
      histLayer(stimX, stimY, '#2f6fb5', 'rgba(70,105,165,.6)'),
      histLayer(il1r1NegX, il1r1NegY, '#f4a0a0', 'rgba(244,165,165,.6)'),
      histLayer(il1r1PosX, il1r1PosY, '#b98080', 'rgba(170,100,100,.7)')
    ]
  },
  options: {
    scales: {
      x: tickScale(0, 136, histTickValues, histTickLabels, 9.5),
      y: { type: 'linear', min: 0, max: 136, ticks: { display: false }, grid: { display: false }, border: { display: false } }
    }
  },
  plugins: [framePlugin]
});

barPanel({
  box: { l: 208, t: 76, r: 290, b: 189 }, x: dividedX, xMin: -0.81, xMax: 2.68, yMax: 80, yTicks: [0, 20, 40, 60, 80], tickSize: 12.5,
  bars: dividedBars, fills: ['#a3a9d8', '#f7b9b9', '#c98a8a'], lines: ['#5b8fc7', '#f29090', '#b04a4a'], barWidth: 16,
  donors: dividedDonors, markerStyle: ['circle', 'rect', 'triangle'], markerRadius: [3.4, 4, 3.6], markerFill: ['#a3a9d8', '#ee7676', '#9c1c24'],
  brackets: dividedBrackets
});

// ---- panel b charts ----
const bTicks = [0, 5, 10, 15, 20];
barPanel({
  box: { l: 353, t: 93, r: 442, b: 184 }, x: bloodX, xMin: -0.75, xMax: 3.685, yMax: 20, yTicks: bTicks, tickSize: 11,
  bars: bloodBars, fills: ['#777', '#7ea3c9', '#7ea3c9', '#7ea3c9'], lines: ['#555', '#2a6bb0', '#2a6bb0', '#2a6bb0'], barWidth: 16,
  donors: bloodDonors, markerStyle: 'circle', markerRadius: 3.2, markerFill: ['#fff', '#1f5a96', '#1f5a96', '#1f5a96'],
  brackets: bloodBrackets
});
barPanel({
  box: { l: 477, t: 93, r: 565, b: 184 }, x: tumourNegX, xMin: -0.765, xMax: 3.635, yMax: 20, yTicks: bTicks, tickSize: 11,
  bars: tumourNegBars, fills: ['#777', '#f6a6a6', '#f6a6a6', '#f6a6a6'], lines: ['#555', '#f6a6a6', '#f6a6a6', '#f6a6a6'], barWidth: 16,
  donors: tumourNegDonors, markerStyle: 'rect', markerRadius: 4, markerFill: ['#fff', '#f08080', '#f08080', '#f08080'],
  brackets: tumourNegBrackets
});
barPanel({
  box: { l: 609, t: 93, r: 697, b: 184 }, x: tumourPosX, xMin: -0.75, xMax: 3.65, yMax: 100, yTicks: [0, 20, 40, 60, 80, 100], tickSize: 11,
  bars: tumourPosBars, fills: ['#777', '#c98686', '#c98686', '#c98686'], lines: ['#333', '#b02a2a', '#b02a2a', '#b02a2a'], barWidth: 14,
  donors: tumourPosDonors, markerStyle: 'triangle', markerRadius: 3.6, markerFill: ['#fff', '#a01c24', '#a01c24', '#a01c24'],
  brackets: tumourPosBrackets
});

// ---- panel c charts ----
addChart({ l: 95, t: 328, r: 303, b: 337 }, { l: 0, r: 0, t: 4, b: 4 }, {
  type: 'bar',
  data: {
    labels: ['clusters'],
    datasets: clusterSizes.map((n, i) => ({ data: [n], backgroundColor: clusterColours[i], borderColor: '#fff', borderWidth: { right: 1 }, barPercentage: 1, categoryPercentage: 1 }))
  },
  options: {
    indexAxis: 'y',
    scales: { x: { ...hiddenAxis, stacked: true, min: 0, max: 26 }, y: { ...hiddenAxis, stacked: true } }
  }
}, true);
heatmap({ l: 95, t: 338, r: 303, b: 486 }, proteinLabels, proteinZ, false);
heatmap({ l: 95, t: 494, r: 303, b: 757 }, transcriptLabels, transcriptZ, true);
addChart({ l: 143, t: 776, r: 258, b: 787 }, { l: 0, r: 10, t: 14, b: 4 }, {
  type: 'bar',
  data: { labels: zLevels.map(String), datasets: [{ data: zLevels.map(() => 1), backgroundColor: zLevels.map(zColour), barPercentage: 1, categoryPercentage: 1 }] },
  options: {
    scales: {
      x: {
        position: 'top', grid: { display: false, drawTicks: false }, border: { display: false },
        ticks: { autoSkip: false, maxRotation: 0, padding: 2, font: { size: 10.5 }, callback(v, i) { const z = zLevels[i]; return z === -1.5 ? '−1.5' : z === 0 ? '0' : z === 1.5 ? '1.5' : ''; } }
      },
      y: { ...hiddenAxis, min: 0, max: 1 }
    }
  }
});

// ---- panel d charts ----
const BLACK = 'rgba(30,30,30,.8)';
const BLACK_FILL = 'rgba(30,30,30,.13)';
const RED = 'rgba(205,80,85,.8)';
const RED_FILL = 'rgba(205,80,85,.06)';
flowChart({ l: 365, t: 273, r: 502, b: 409 }, d1XTicks, ['10⁰', '10³'], d1YTicks, ['10⁰', '10²', '10³'], [
  dots(d1Dots, '#666', 0.55),
  ...d1Cd8Contours.map(c => contour(c, BLACK, 0.8, BLACK_FILL)),
  shape([33,225,37,270,35,300,31,270], 'rgba(40,40,40,.55)'),
  ...d1Cd4Contours.map(c => contour(c, BLACK, 0.9, 'rgba(30,30,30,.22)')),
  gate(d1Cd8Gate), gate(d1Cd4Gate)
]);
flowChart({ l: 561, t: 273, r: 697, b: 409 }, d2XTicks, ['10⁰', '10²', '10³'], d2YTicks, ['10⁰', '10²', '10³'], [
  shape(d2TregGate, 'rgba(226,160,160,.75)', 'rgba(226,160,160,.75)'),
  dots(d2Dots, '#666', 0.55),
  ...d2TregContours.map(c => contour(c, 'rgba(70,30,30,.8)', 0.8, 'rgba(70,30,30,.09)')),
  ...d2TconvContours.map(c => contour(c, BLACK, 0.8, 'rgba(30,30,30,.06)')),
  gate(d2TconvGate)
]);
flowChart({ l: 365, t: 464, r: 501, b: 600 }, d3XTicks, ['10⁰', '10¹', '10²'], d3YTicks, ['10⁰', '10¹', '10²'], [
  dots(d3Dots, '#111', 1.4, 'rect'),
  ...d3Contours.map(c => contour(c, BLACK, 0.8, BLACK_FILL)),
  straight([132, 0, 132, 408], '#444'), straight([0, 135, 408, 135], '#333')
]);
flowChart({ l: 526, t: 464, r: 662, b: 600 }, d3XTicks, ['10⁰', '10¹', '10²'], d3YTicks, ['10⁰', '10¹', '10²'], [
  dots(d4Dots, '#c8282e', 1.4, 'rect'),
  ...d4Contours.map(c => contour(c, RED, 0.7, RED_FILL)),
  straight([133, 0, 133, 408], '#777', 1.3), straight([0, 135, 408, 135], '#333')
]);
flowChart({ l: 365, t: 647, r: 501, b: 783 }, d5XTicks, ['10⁰', '10²'], d5YTicks, ['10⁰', '10¹', '10²'], [
  dots(d5Dots, '#111', 1.4, 'rect'),
  ...d5Contours.map(c => contour(c, BLACK, 0.7, 'rgba(30,30,30,.08)')),
  straight([124, 0, 124, 408], '#333'), straight([0, 146, 408, 146], '#555')
]);
flowChart({ l: 526, t: 647, r: 662, b: 783 }, d6XTicks, ['10⁰', '10²'], d5YTicks, ['10⁰', '10¹', '10²'], [
  dots(d6Dots, '#c8282e', 1.4, 'rect'),
  ...d6Contours.map(c => contour(c, RED, 0.7, RED_FILL)),
  straight([125, 0, 125, 408], '#333'), straight([0, 146, 408, 146], '#555')
]);

// ---- panel e charts ----
flowChart({ l: 50, t: 877, r: 186, b: 1012 }, eXTicks, ['10⁰', '10³', '10⁴', '10⁵'], eYTicks, ['10⁻³', '10⁰', '10³', '10⁴', '10⁵'], [
  shape(e1GreyGate, '#d6d6d6'),
  shape(e1PinkGate, '#e0808a'),
  shape(e1RedBlob, '#761a20', '#761a20', 2, 0.35),
  shape(e1DarkBlob, '#2e2e2e', '#2e2e2e', 2, 0.35),
  shape(e1InnerBlob, '#f4f4f4', '#f4f4f4', 1, 0.35),
  ...e1Contours.map(c => contour(c, '#8e8e8e', 0.9)),
  ...e1PinkContours.map(c => shape(c, 'rgba(235,175,175,.6)', '#d89090', 0.8, 0.35)),
  dots(e1Dots, '#222', 1)
]);
flowChart({ l: 244, t: 877, r: 382, b: 1012 }, e2XTicks, ['10⁰', '10⁴', '10⁵'], e2YTicks, ['10⁻³', '10⁰', '10³', '10⁴', '10⁵'], [
  shape(e2GreyBlob, '#e0e0e0', '#e0e0e0', 1, 0.35),
  dots(e2GreyDots, '#ccc', 1),
  shape(e2RedBlob, '#861a20', '#861a20', 2, 0.35),
  dots(e2RedDots, '#861a20', 1.6),
  shape(e2InnerBlob, '#f6e6e6', '#f6e6e6', 1, 0.35),
  ...e2Contours.map(c => contour(c, '#c88080', 0.9)),
  gate(e2Gate, '#222', 1)
]);

barPanel({
  box: { l: 452, t: 893, r: 527, b: 1003 }, x: gatedX, xMin: -0.675, xMax: 1.67, yMax: 100, yTicks: [0, 20, 40, 60, 80, 100], tickSize: 11.5,
  bars: gatedBars, fills: ['#d8d8d8', '#c98586'], lines: ['#999', '#a82a30'], barWidth: 20,
  errors: gatedErrors, errorColor: '#b06a6a',
  extra: [
    jitterSet(gatedNegX, gatedNegY, 0, 'circle', 2.6, '#b8b8b8', '#888'),
    jitterSet(gatedPosX, gatedPosY, 1, 'rect', 3.6, '#9c1c24', '#7a1a20')
  ],
  brackets: gatedBrackets
});

// ---- panel f chart ----
barPanel({
  box: { l: 595, t: 882, r: 677, b: 1013 }, x: tissueX, xMin: -0.635, xMax: 2.67, yMax: 30, yTicks: [0, 10, 20, 30], tickSize: 11.5,
  bars: tissueBars, fills: ['#9cc0e6', '#f5c880', '#c98586'], lines: ['#3f7fc0', '#e08a00', '#a82a30'], barWidth: 16,
  errors: tissueErrors, errorColor: '#c05a5a',
  extra: [
    jitterSet(bloodPtsX, bloodPtsY, 0, 'circle', 2.6, '#3f7fc0', '#2a5f9a'),
    jitterSet(omPtsX, omPtsY, 1, 'rect', 3.6, '#f0a020', '#b87000'),
    jitterSet(hnsccPtsX, hnsccPtsY, 2, 'triangle', 4, '#9c1c24', '#7a1a20')
  ],
  brackets: tissueBrackets
});

// ---- text ----
const TREG = 'T<sub>reg</sub>';
const labels = [
  // panel letters
  [16, 10, 'a', 20, 'c', '#000', 0, true], [325, 9, 'b', 20, 'c', '#000', 0, true], [10, 273, 'c', 20, 'c', '#000', 0, true],
  [317, 272, 'd', 20, 'c', '#000', 0, true], [10, 851, 'e', 20, 'c', '#000', 0, true], [553, 849, 'f', 20, 'c', '#000', 0, true],
  // a
  [96, 40, 'CD8<sup>+</sup> tumour T<sub>resp</sub>', 10.5, 'c'], [95, 57, 'after 4 days culture', 10.5, 'c'],
  [97, 103, 'Unstim', 10.5, 'r', '#8a8a8a'], [98, 117, 'Tumour CD8<sup>+</sup>', 10.5, 'r', '#8a8a8a'],
  [97, 131, 'Stim', 10.5, 'r', '#2f6fb5'], [98, 143, 'Tumour CD8<sup>+</sup>', 10.5, 'r', '#2f6fb5'],
  [98, 159, '+ IL1R1<sup>−</sup>', 10.5, 'r', '#f08c8c'], [85, 170, TREG, 10.5, 'c', '#f08c8c'],
  [31, 193, '+ IL-1R1<sup>+</sup> ' + TREG, 10.5, 'l', '#9c1c24'],
  [22, 232, 'CTV', 10.5, 'l'],
  [179, 132, 'Divided (%)', 12.5, 'c', INK, -90],
  [248, 25, '0.0043', 10.5, 'c'], [260, 48, '0.0045', 10.5, 'c'], [238, 68, '0.0172', 10.5, 'c'],
  [228, 196, 'T<sub>resp</sub> only', 11, 'r', INK, -45], [254, 196, 'IL1R1<sup>−</sup> ' + TREG, 11, 'r', INK, -45], [289, 197, 'IL1R1<sup>+</sup> ' + TREG, 11, 'r', INK, -45],
  // b
  [399, 27, 'Blood ' + TREG, 10.5, 'c'], [518, 27, 'Tumour IL1R1<sup>−</sup>', 10.5, 'c'], [653, 27, 'Tumour IL1R1<sup>+</sup>', 10.5, 'c'],
  [323, 143, 'IL-1R1<sup>+</sup> cells (%)', 10.5, 'c', INK, -90],
  [379, 110, '0.1503', 10.5, 'c'], [388, 83, '0.1858', 10.5, 'c'], [398, 57, '0.2114', 10.5, 'c'],
  [503, 93, '0.2492', 10.5, 'c'], [513, 70, '0.0188', 10.5, 'c'], [523, 48, '0.0230', 10.5, 'c'],
  [655, 52, '0.0026', 10.5, 'c'], [666, 75, '0.0002', 10.5, 'c'], [678, 98, '0.1685', 10.5, 'c'],
  [399, 236, 'Bead stim', 10.5, 'c'], [524, 235, 'Bead stim', 10.5, 'c'], [657, 231, 'Bead stim', 10.5, 'c'],
  [368, 190, 'Day 1 unstim', 11, 'r', INK, -45], [395, 190, 'Day 1', 11, 'r', INK, -45], [415, 190, 'Day 2', 11, 'r', INK, -45], [434, 190, 'Day 3', 11, 'r', INK, -45],
  [493, 190, 'Day 1 unstim', 11, 'r', INK, -45], [518, 190, 'Day 1', 11, 'r', INK, -45], [538, 190, 'Day 2', 11, 'r', INK, -45], [558, 190, 'Day 3', 11, 'r', INK, -45],
  [627, 190, 'Day 1 unstim', 11, 'r', INK, -45], [650, 190, 'Day 1', 11, 'r', INK, -45], [670, 190, 'Day 2', 11, 'r', INK, -45], [693, 190, 'Day 3', 11, 'r', INK, -45],
  // c
  [198, 284, 'HNSCC (ex vivo + stim)', 10.5, 'c'], [139, 309, 'CD4<sup>+</sup> T<sub>conv</sub>', 10.5, 'c'], [244, 309, 'CD4<sup>+</sup> ' + TREG, 10.5, 'c'],
  [22, 421, 'Protein', 10.5, 'c', INK, -90], [22, 638, 'Transcript', 10.5, 'c', INK, -90],
  [200, 796, '<i>z</i>-score normalized expression', 10.5, 'c'],
  // d
  [398, 285, 'CD8<sup>+</sup> T cells', 10.5, 'l'], [398, 298, '23.9%', 10.5, 'l'], [463, 348, 'CD4<sup>+</sup> T cells', 10.5, 'c'], [493, 361, '62.5%', 10.5, 'r'],
  [346, 436, 'CD127 protein', 10.5, 'l'], [534, 436, 'CD127 protein', 10.5, 'l'],
  [332, 391, 'CD8 protein', 10.5, 'c', INK, -90], [530, 392, 'CD25 protein', 10.5, 'c', INK, -90],
  [617, 283, TREG, 10.5, 'c'], [618, 297, '43.8%', 10.5, 'c'], [661, 300, 'CD4<sup>+</sup>', 10.5, 'l'], [661, 313, 'T<sub>conv</sub>', 10.5, 'l'], [657, 327, '52.1%', 10.5, 'l'],
  [433, 454, 'Unstimulated', 10.5, 'c'], [593, 454, '2 h PMA + ionomycin', 10.5, 'c'],
  [371, 474, '34.3%', 10.5, 'l'], [495, 474, '11.9%', 10.5, 'r'], [371, 592, '49.2%', 10.5, 'l'], [493, 592, '4.61%', 10.5, 'r'],
  [531, 474, '11.4%', 10.5, 'l'], [657, 474, '23.1%', 10.5, 'r'], [531, 592, '29.2%', 10.5, 'l'], [657, 592, '36.4%', 10.5, 'r'],
  [368, 656, '32.3%', 10.5, 'l'], [493, 656, '13.9%', 10.5, 'r'], [368, 774, '47.7%', 10.5, 'l'], [492, 774, '6.14%', 10.5, 'r'],
  [529, 656, '7.47%', 10.5, 'l'], [651, 656, '26.9%', 10.5, 'r'], [528, 774, '26.3%', 10.5, 'l'], [655, 774, '39.3%', 10.5, 'r'],
  [362, 631, '<i>TNFRSF9</i> RNA', 10.5, 'l'], [362, 807, '<i>CTLA4</i> RNA', 10.5, 'l'],
  [332, 578, 'IL1R1 protein', 10.5, 'c', INK, -90], [332, 760, 'IL1R1 protein', 10.5, 'c', INK, -90],
  // e
  [117, 853, 'HNSCC total', 10.5, 'c'], [117, 866, 'CD45<sup>+</sup> live cells', 10.5, 'c'], [313, 853, 'Total CD45<sup>+</sup>', 10.5, 'c'], [313, 866, 'ICOS<sup>+</sup>IL-1R1<sup>+</sup>', 10.5, 'c'],
  [133, 929, 'ICOS<sup>+</sup>IL1R1<sup>+</sup>', 10.5, 'c'], [136, 942, '14.9%', 10.5, 'c'], [157, 997, '83.9%', 10.5, 'r'],
  [38, 1038, 'IL1R1', 10.5, 'l'], [121, 1050, 'PE', 10.5, 'c'], [232, 1038, 'CD127', 10.5, 'l'], [316, 1050, 'BB660', 10.5, 'c'],
  [5, 938, 'BUV737', 10.5, 'c', INK, -90], [12, 1000, 'ICOS', 10.5, 'c', INK, -90], [202, 937, 'BV421', 10.5, 'c', INK, -90], [209, 1000, 'CD25', 10.5, 'c', INK, -90],
  [334, 885, TREG + ' gate', 10.5, 'l', '#b03030'], [374, 901, '96.5%', 10.5, 'r', '#b03030'],
  [405, 947, 'CD25<sup>+</sup>CD127<sup>−</sup>', 10.5, 'c', INK, -90], [418, 947, '(% of gated population)', 10.5, 'c', INK, -90],
  [488, 871, '&lt;0.0001', 10.5, 'c'],
  [470, 1014, 'ICOS<sup>−</sup>', 10.5, 'r', INK, -45], [487, 1016, 'IL1R1<sup>−</sup>', 10.5, 'r', INK, -45],
  [509, 1013, 'ICOS<sup>+</sup>', 10.5, 'r', INK, -45], [526, 1015, 'IL1R1<sup>+</sup>', 10.5, 'r', INK, -45],
  // f
  [552, 947, 'ICOS<sup>+</sup>IL1R1<sup>+</sup>', 10.5, 'c', INK, -90], [565, 947, '(% of live CD45+ cells)', 10.5, 'c', INK, -90],
  [636, 872, '0.0020', 10.5, 'c'], [648, 894, '0.0133', 10.5, 'c'], [622, 916, '0.7741', 10.5, 'c'],
  [613, 1021, 'Blood', 10.5, 'r', INK, -45], [639, 1021, 'OM', 10.5, 'r', INK, -45], [665, 1021, 'HNSCC', 10.5, 'r', INK, -45]
];

// white box behind the ICOS+IL1R1+ gate label
const gateBox = document.createElement('div');
gateBox.style.cssText = 'position:absolute;left:98px;top:921px;width:68px;height:27px;background:rgba(255,255,255,.72);';
page.appendChild(gateBox);

labels.forEach(([x, y, html, size, anchor, color, rot, bold]) => {
  const el = document.createElement('div');
  el.className = 't';
  el.innerHTML = html;
  el.style.left = x + 'px';
  el.style.top = y + 'px';
  el.style.fontSize = size + 'px';
  el.style.color = color || INK;
  if (bold) el.style.fontWeight = 'bold';
  const shift = anchor === 'r' ? '-100%' : anchor === 'l' ? '0' : '-50%';
  el.style.transformOrigin = anchor === 'r' ? '100% 50%' : anchor === 'l' ? '0 50%' : '50% 50%';
  el.style.transform = `translate(${shift},-50%) rotate(${rot || 0}deg)`;
  page.appendChild(el);
});

// ---- arrows and rule lines ----
const arrows = [
  [49, 232, 156, 232], [331, 355, 331, 282], [421, 436, 493, 436], [530, 355, 530, 278], [611, 436, 683, 436],
  [331, 540, 331, 461], [331, 720, 331, 643], [441, 631, 658, 631], [432, 807, 658, 807],
  [12, 980, 12, 880], [73, 1038, 180, 1038], [209, 980, 209, 880], [273, 1038, 375, 1038]
];
const dashedArrows = [[496, 386, 518, 386], [574, 364, 513, 458], [163, 909, 201, 909]];
const rules = [
  [358, 228, 438, 228], [485, 226, 564, 226], [615, 223, 694, 223],
  [95, 296, 303, 296], [95, 321, 189, 321], [192, 321, 303, 321],
  [32, 341, 32, 486], [32, 500, 32, 755]
];
const parts = ['<defs><marker id="head" viewBox="0 0 10 10" refX="9" refY="5" markerWidth="7" markerHeight="7" markerUnits="userSpaceOnUse" orient="auto"><path d="M0 0L10 5L0 10z" fill="#111"/></marker></defs>'];
arrows.forEach(a => parts.push(`<line x1="${a[0]}" y1="${a[1]}" x2="${a[2]}" y2="${a[3]}" stroke="#222" stroke-width="1.1" marker-end="url(#head)"/>`));
dashedArrows.forEach(a => parts.push(`<line x1="${a[0]}" y1="${a[1]}" x2="${a[2]}" y2="${a[3]}" stroke="#222" stroke-width="0.9" stroke-dasharray="2 2" marker-end="url(#head)"/>`));
rules.forEach(a => parts.push(`<line x1="${a[0]}" y1="${a[1]}" x2="${a[2]}" y2="${a[3]}" stroke="#444" stroke-width="1"/>`));
const svg = document.createElementNS('http://www.w3.org/2000/svg', 'svg');
svg.setAttribute('width', 704);
svg.setAttribute('height', 1054);
svg.innerHTML = parts.join('');
page.appendChild(svg);
</script>
</body>
</html>
